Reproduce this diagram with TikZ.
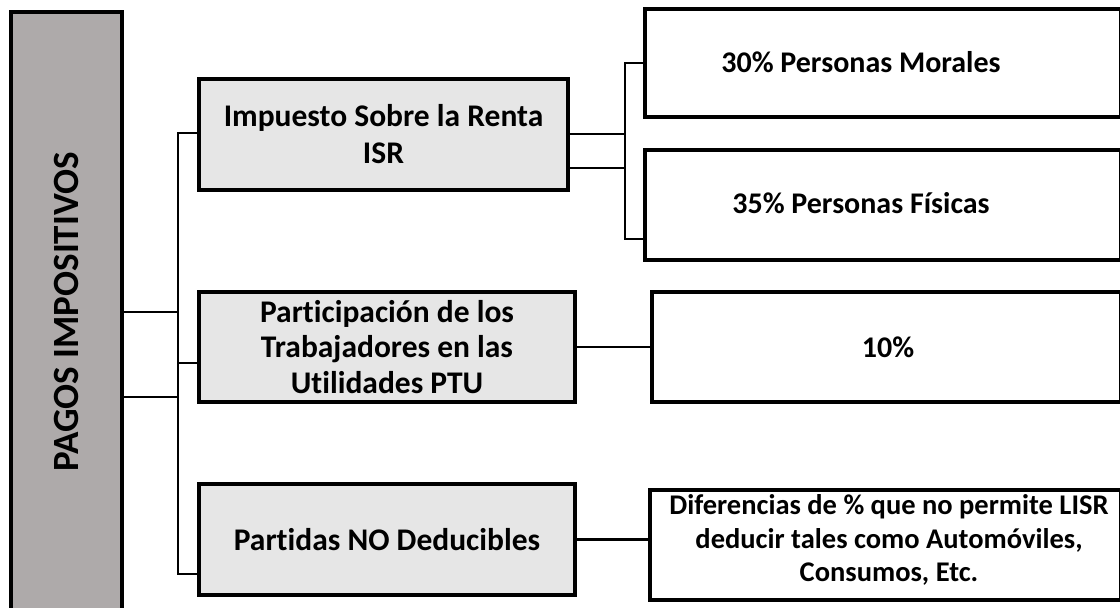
\documentclass[tikz,border=0pt]{standalone}
\usepackage{fontspec}
\setmainfont[Ligatures=NoCommon]{Carlito}
\definecolor{leftgray}{HTML}{AEAAAA}
\definecolor{boxgray}{HTML}{E6E6E6}
\begin{document}
\begin{tikzpicture}[x=1pt,y=-1pt,
  box/.style={draw=black, line width=3.5pt, inner sep=0pt, align=center},
  graybox/.style={box, fill=boxgray},
  whitebox/.style={box, fill=white},
  conn/.style={draw=black, line width=2.2pt},
  lbl/.style={inner sep=0pt, align=center}]
\useasboundingbox (0,0) rectangle (1120,608);
\clip (0,0) rectangle (1120,608);
% trunk and bracket points
\coordinate (t1) at (178,133);
\coordinate (t2) at (178,312);
\coordinate (t3) at (178,363);
\coordinate (t4) at (178,397);
\coordinate (t5) at (178,574);
\coordinate (b1) at (625,63);
\coordinate (b2) at (625,134);
\coordinate (b3) at (625,168);
\coordinate (b4) at (625,239);
% boxes
\node[box, fill=leftgray, minimum width=111pt, minimum height=638pt] (L) at (66.5,331) {};
\node[graybox, minimum width=369pt, minimum height=111pt, font=\fontsize{31.5}{37}\selectfont\bfseries] (ISR) at (383.5,134.5) {Impuesto Sobre la Renta\\ISR};
\node[graybox, minimum width=376pt, minimum height=110pt, font=\fontsize{31.5}{35.5}\selectfont\bfseries] (PTU) at (387,347) {Participación de los\\Trabajadores en las\\Utilidades PTU};
\node[graybox, minimum width=376pt, minimum height=111pt, font=\fontsize{31.5}{35}\selectfont\bfseries] (PND) at (387,539.5) {Partidas NO Deducibles};
\node[whitebox, minimum width=476pt, minimum height=108pt] (M30) at (883,63) {};
\node[whitebox, minimum width=476pt, minimum height=110pt] (F35) at (883,205) {};
\node[whitebox, minimum width=469pt, minimum height=110pt] (P10) at (886.5,347) {};
\node[whitebox, minimum width=471pt, minimum height=110pt] (DIF) at (885.5,545) {};
% texts
\node[lbl, rotate=90, anchor=base, font=\fontsize{37}{40}\selectfont\bfseries] (Lt) at (78,312) {PAGOS IMPOSITIVOS};
\node[lbl, anchor=base, font=\fontsize{30}{35}\selectfont\bfseries] (M30t) at (861,72) {30\% Personas Morales};
\node[lbl, anchor=base, font=\fontsize{30}{35}\selectfont\bfseries] (F35t) at (861,213) {35\% Personas Físicas};
\node[lbl, anchor=base, font=\fontsize{30}{35}\selectfont\bfseries] (P10t) at (888,357) {10\%};
\node[lbl, font=\fontsize{28.5}{33.5}\selectfont\bfseries] (DIFt) at (889,540) {Diferencias de \% que no permite LISR\\deducir tales como Automóviles,\\Consumos, Etc.};
% connectors
\draw[conn] (L.east |- t2) -- (t2);
\draw[conn] (L.east |- t4) -- (t4);
\draw[conn] (ISR.west |- t1) -- (t1) -- (t5) -- (PND.west |- t5);
\draw[conn] (t3) -- (PTU.west |- t3);
\draw[conn] (ISR.east |- b2) -- (b2);
\draw[conn] (ISR.east |- b3) -- (b3);
\draw[conn] (M30.west |- b1) -- (b1) -- (b4) -- (F35.west |- b4);
\draw[conn] (PTU.east) -- (P10.west |- PTU.east);
\draw[conn] (PND.east) -- (DIF.west |- PND.east);
\end{tikzpicture}
\end{document}
